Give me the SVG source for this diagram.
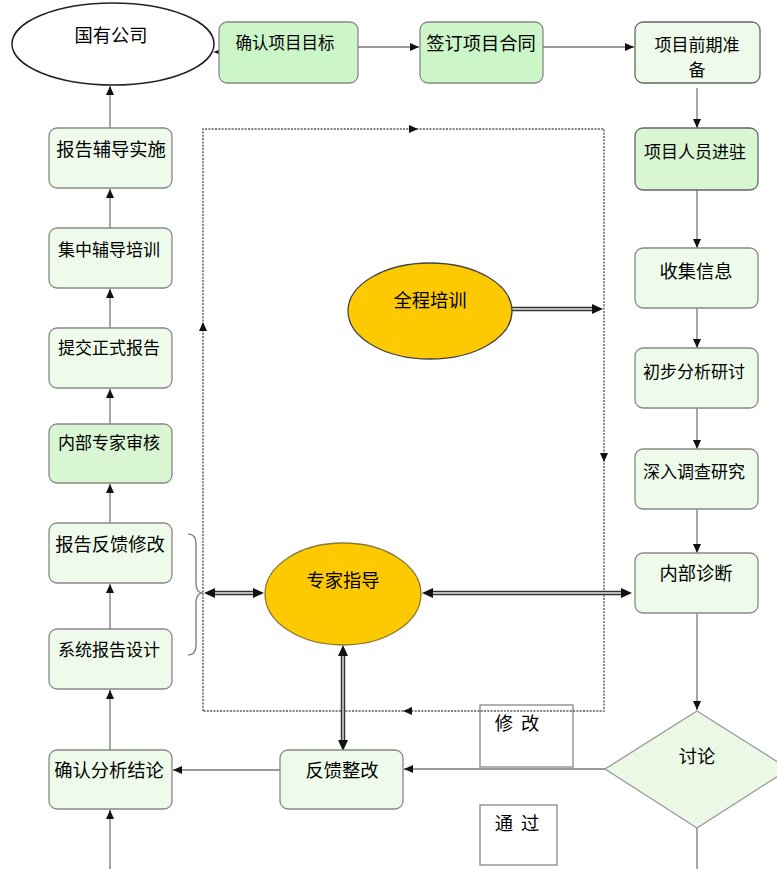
<svg xmlns="http://www.w3.org/2000/svg" width="777" height="869" viewBox="0 0 777 869">
<style>
text{font-family:"Noto Sans CJK SC","Noto Sans",sans-serif;fill:#000;text-anchor:middle}
.f16{font-size:16.5px}.f17{font-size:17px}.f18{font-size:18.3px}
.box{stroke:#888;stroke-width:1.3}
.g1{fill:#cdf6c8}.g2{fill:#d9f6d2}.g3{fill:#eefaea}
.ln{stroke:#777;stroke-width:1.3;fill:none}
.dot{stroke:#555;stroke-width:1.4;fill:none;stroke-dasharray:2 1.3}
.dbo{stroke:#333;stroke-width:4.5;fill:none}
.dbi{stroke:#bbb;stroke-width:1.8;fill:none}
.plain{fill:#fff;stroke:#888;stroke-width:1.3}
</style>
<defs>
<marker id="a" markerUnits="userSpaceOnUse" markerWidth="10" markerHeight="10" refX="9" refY="5" orient="auto"><path d="M0,1 L9,5 L0,9 Z" fill="#111"/></marker>
</defs>

<g id="plainboxes">
<g id="n-xiugai"><rect class="plain" x="480" y="705" width="93" height="62"/><text class="f18" x="517" y="730" style="word-spacing:4px">修 改</text></g>
<g id="n-tongguo"><rect class="plain" x="480" y="805" width="77" height="60"/><text class="f18" x="517" y="830" style="word-spacing:4px">通 过</text></g>
</g>

<g id="connectors">
<path class="dot" d="M203,711 L203,129 L604,129 L604,711 Z"/>
<path d="M203,322 l-4,9 h8 z" fill="#111"/>
<path d="M418,129 l-9,-4 v8 z" fill="#111"/>
<path d="M604,462 l-4,-9 h8 z" fill="#111"/>
<path d="M403,711 l9,-4 v8 z" fill="#111"/>
<line class="ln" x1="219" y1="52" x2="214" y2="52" marker-end="url(#a)"/>
<line class="ln" x1="358" y1="47" x2="419" y2="47" marker-end="url(#a)"/>
<line class="ln" x1="543" y1="47" x2="634" y2="47" marker-end="url(#a)"/>
<line class="ln" x1="697" y1="88" x2="697" y2="128" marker-end="url(#a)"/>
<line class="ln" x1="697" y1="190" x2="697" y2="248" marker-end="url(#a)"/>
<line class="ln" x1="697" y1="308" x2="697" y2="348" marker-end="url(#a)"/>
<line class="ln" x1="697" y1="408" x2="697" y2="449" marker-end="url(#a)"/>
<line class="ln" x1="697" y1="509" x2="697" y2="553" marker-end="url(#a)"/>
<line class="ln" x1="697" y1="613" x2="697" y2="710" marker-end="url(#a)"/>
<line class="ln" x1="697" y1="828" x2="697" y2="869"/>
<line class="ln" x1="605" y1="769" x2="404" y2="769" marker-end="url(#a)"/>
<line class="ln" x1="280" y1="770" x2="173" y2="770" marker-end="url(#a)"/>
<line class="ln" x1="110" y1="869" x2="110" y2="810" marker-end="url(#a)"/>
<line class="ln" x1="110" y1="750" x2="110" y2="690" marker-end="url(#a)"/>
<line class="ln" x1="110" y1="629" x2="110" y2="584" marker-end="url(#a)"/>
<line class="ln" x1="110" y1="523" x2="110" y2="484" marker-end="url(#a)"/>
<line class="ln" x1="110" y1="424" x2="110" y2="389" marker-end="url(#a)"/>
<line class="ln" x1="110" y1="328" x2="110" y2="289" marker-end="url(#a)"/>
<line class="ln" x1="110" y1="228" x2="110" y2="189" marker-end="url(#a)"/>
<line class="ln" x1="110" y1="128" x2="110" y2="86" marker-end="url(#a)"/>
<path d="M188,534 Q196,534 196,544 L196,583 Q196,593 203,593 Q196,593 196,603 L196,645 Q196,655 188,655" fill="none" stroke="#888" stroke-width="1.5"/>
<line class="dbo" x1="214" y1="593" x2="254" y2="593"/>
<line class="dbi" x1="214" y1="593" x2="254" y2="593"/>
<path d="M204,593 l11,-5 v10 z M264,593 l-11,-5 v10 z" fill="#111"/>
<line class="dbo" x1="432" y1="593" x2="622" y2="593"/>
<line class="dbi" x1="432" y1="593" x2="622" y2="593"/>
<path d="M422,593 l11,-5 v10 z M632,593 l-11,-5 v10 z" fill="#111"/>
<line class="dbo" x1="343" y1="656" x2="343" y2="740"/>
<line class="dbi" x1="343" y1="656" x2="343" y2="740"/>
<path d="M343,645 l-5,11 h10 z M343,751 l-5,-11 h10 z" fill="#111"/>
<line class="dbo" x1="512" y1="309" x2="593" y2="309"/>
<line class="dbi" x1="512" y1="309" x2="593" y2="309"/>
<path d="M603,309 l-11,-5 v10 z" fill="#111"/>
</g>

<g id="n-guoyou"><ellipse cx="113" cy="44" rx="101" ry="41" fill="#fff" stroke="#222" stroke-width="1.5"/><text class="f18" x="111" y="42">国有公司</text></g>
<g id="n-queren"><rect class="box g1" x="219" y="22" width="139" height="61" rx="8"/><text class="f16" x="285" y="49">确认项目目标</text></g>
<g id="n-qianding"><rect class="box g1" x="420" y="22" width="123" height="61" rx="8"/><text class="f18" x="481" y="50">签订项目合同</text></g>
<g id="n-qianqi"><rect class="box g3" x="635" y="22" width="125" height="61" rx="8" style="stroke:#666"/><text class="f17" x="697" y="51">项目前期准</text><text class="f17" x="697" y="76">备</text></g>
<g id="n-jinzhu"><rect class="box g2" x="635" y="128" width="123" height="62" rx="8" style="stroke:#666"/><text class="f17" x="695" y="158">项目人员进驻</text></g>
<g id="n-shouji"><rect class="box g3" x="635" y="248" width="123" height="60" rx="8"/><text class="f18" x="696" y="278">收集信息</text></g>
<g id="n-chubu"><rect class="box g3" x="635" y="348" width="123" height="60" rx="8"/><text class="f17" x="694" y="378">初步分析研讨</text></g>
<g id="n-shenru"><rect class="box g3" x="635" y="449" width="123" height="60" rx="8"/><text class="f17" x="694" y="478">深入调查研究</text></g>
<g id="n-zhenduan"><rect class="box g3" x="635" y="553" width="123" height="60" rx="8"/><text class="f18" x="696" y="580">内部诊断</text></g>
<g id="n-taolun"><path d="M697,711 L789,769 L697,828 L605,769 Z" fill="#ebf8e6" stroke="#999" stroke-width="1.3"/><text class="f18" x="697" y="763">讨论</text></g>
<g id="n-fankui"><rect class="box g3" x="280" y="750" width="123" height="59" rx="8"/><text class="f18" x="342" y="777">反馈整改</text></g>
<g id="n-jielun"><rect class="box g3" x="49" y="750" width="123" height="59" rx="8"/><text class="f18" x="109" y="777">确认分析结论</text></g>
<g id="n-sheji"><rect class="box g3" x="49" y="629" width="123" height="60" rx="8"/><text class="f17" x="109" y="656">系统报告设计</text></g>
<g id="n-xiugaifk"><rect class="box g3" x="49" y="523" width="123" height="60" rx="8"/><text class="f18" x="110" y="551">报告反馈修改</text></g>
<g id="n-shenhe"><rect class="box g2" x="49" y="424" width="123" height="59" rx="8"/><text class="f17" x="109" y="449">内部专家审核</text></g>
<g id="n-tijiao"><rect class="box g3" x="49" y="328" width="123" height="60" rx="8"/><text class="f17" x="109" y="354">提交正式报告</text></g>
<g id="n-jizhong"><rect class="box g3" x="49" y="228" width="123" height="60" rx="8"/><text class="f17" x="109" y="256">集中辅导培训</text></g>
<g id="n-shishi"><rect class="box g3" x="49" y="128" width="123" height="60" rx="8"/><text class="f18" x="111" y="156">报告辅导实施</text></g>
<g id="n-quancheng"><ellipse cx="430" cy="311" rx="82" ry="48" fill="#fdc900" stroke="#444" stroke-width="1.3"/><text class="f18" x="430" y="307">全程培训</text></g>
<g id="n-zhuanjia"><ellipse cx="343" cy="594" rx="78" ry="51" fill="#fdc900" stroke="#8a7a30" stroke-width="1.3"/><text class="f18" x="343" y="587">专家指导</text></g>
</svg>
